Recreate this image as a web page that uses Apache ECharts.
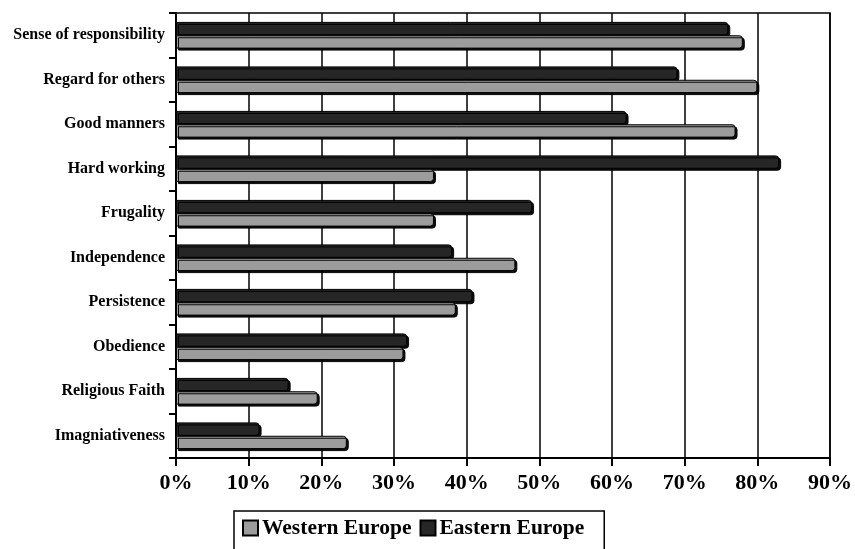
<!DOCTYPE html>
<html>
<head>
<meta charset="utf-8">
<script src="https://cdn.jsdelivr.net/npm/echarts@6/dist/echarts.min.js"></script>
<style>html,body{margin:0;padding:0;background:#fff;}#c{width:855px;height:549px;}</style>
</head>
<body>
<div id="c"></div>
<script>
const categories = ["Sense of responsibility","Regard for others","Good manners","Hard working","Frugality","Independence","Persistence","Obedience","Religious Faith","Imagniativeness"];
const westernEurope = [78, 80, 77, 35.5, 35.5, 46.7, 38.5, 31.3, 19.5, 23.5];
const easternEurope = [76, 69, 62, 83, 49, 38, 40.8, 31.8, 15.5, 11.5];
const tickLabels = ["0%","10%","20%","30%","40%","50%","60%","70%","80%","90%"];

const font = "Liberation Serif";
const chart = echarts.init(document.getElementById('c'));
const barStyle = (color) => ({
  color: color,
  borderColor: '#000',
  borderWidth: 1,
  borderRadius: [0, 3, 3, 0],
  shadowColor: 'rgba(0,0,0,0.95)',
  shadowOffsetX: 2,
  shadowOffsetY: 2,
  shadowBlur: 0
});
chart.setOption({
  animation: false,
  backgroundColor: '#fff',
  grid: { left: 176, right: 16, top: 13, bottom: 91, show: true, borderColor: '#000', borderWidth: 1.5, containLabel: false },
  legend: {
    data: ['Western Europe', 'Eastern Europe'],
    left: 234, top: 511,
    padding: [6, 20, 14, 8],
    borderColor: '#000', borderWidth: 1.5,
    itemWidth: 15, itemHeight: 15, itemGap: 8,
    icon: 'rect',
    textStyle: { fontFamily: font, fontWeight: 'bold', fontSize: 21.5, color: '#000', padding: [0, 0, 0, -1] }
  },
  xAxis: {
    type: 'value', min: 0, max: 90, interval: 10,
    axisLine: { show: true, lineStyle: { color: '#000', width: 2 } },
    axisTick: { show: true, length: 8, lineStyle: { color: '#000', width: 2 } },
    splitLine: { show: true, lineStyle: { color: '#000', width: 1.5 } },
    axisLabel: {
      margin: 14,
      fontFamily: font, fontWeight: 'bold', fontSize: 22, color: '#000',
      formatter: (v) => tickLabels[Math.round(v / 10)]
    }
  },
  yAxis: {
    type: 'category', data: categories, inverse: true,
    axisLine: { show: true, lineStyle: { color: '#000', width: 2 } },
    axisTick: { show: true, length: 7, lineStyle: { color: '#000', width: 2 } },
    axisLabel: { margin: 11, fontFamily: font, fontWeight: 'bold', fontSize: 16, color: '#000' }
  },
  series: [
    { name: 'Eastern Europe', type: 'bar', data: easternEurope, barGap: '0%', barCategoryGap: '40%', itemStyle: barStyle('#262626') },
    { name: 'Western Europe', type: 'bar', data: westernEurope, barGap: '0%', barCategoryGap: '40%', itemStyle: barStyle('#9c9c9c') }
  ]
});
</script>
</body>
</html>
